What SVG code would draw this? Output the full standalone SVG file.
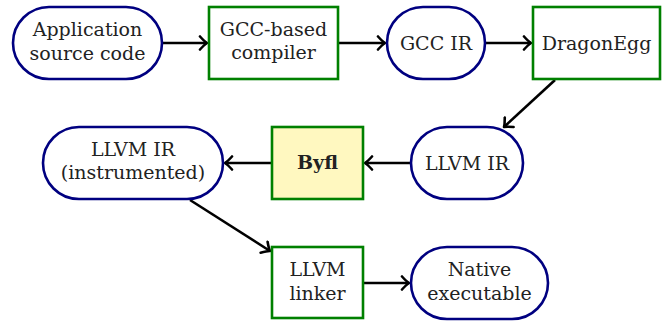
<svg xmlns="http://www.w3.org/2000/svg" width="669" height="322" viewBox="0 0 669 322">
<style>
.data{fill:#fff;stroke:#000080;stroke-width:2.6}
.tool{fill:#fff;stroke:#008000;stroke-width:2.6}
.byfl{fill:#fff8c0;stroke:#008000;stroke-width:2.6}
text{font-family:'DejaVu Serif','Liberation Serif',serif;font-size:19px;fill:#222;text-anchor:middle}
.b{font-weight:bold}
.edge{stroke:#000;stroke-width:2.6;fill:none;marker-end:url(#arr)}
</style>
<defs>
<marker id="arr" markerUnits="userSpaceOnUse" viewBox="-10 -8 12 16" refX="0" refY="0" markerWidth="12" markerHeight="16" orient="auto">
<path d="M-7,-6.5 Q-2.5,-1.5 0,0 Q-2.5,1.5 -7,6.5" fill="none" stroke="#000" stroke-width="2.6" stroke-linecap="round" stroke-linejoin="round"/>
</marker>
</defs>
<g id="connectors">
<path class="edge" d="M162,43 H207"/>
<path class="edge" d="M339,43 H385"/>
<path class="edge" d="M485,43 H531"/>
<path class="edge" d="M555,80 L504,127"/>
<path class="edge" d="M411,163 H365"/>
<path class="edge" d="M272,163 H225"/>
<path class="edge" d="M190,200 L270,251"/>
<path class="edge" d="M363,283 H409"/>
</g>
<g id="app">
<rect class="data" x="13" y="7" width="149" height="72" rx="36"/>
<text x="87.5" y="36">Application</text>
<text x="87.5" y="60">source code</text>
</g>
<g id="gcc">
<rect class="tool" x="209" y="7" width="129" height="72"/>
<text x="273.5" y="36">GCC-based</text>
<text x="273.5" y="59">compiler</text>
</g>
<g id="gccir">
<rect class="data" x="387" y="7" width="98" height="72" rx="36"/>
<text x="436" y="50">GCC IR</text>
</g>
<g id="dragonegg">
<rect class="tool" x="533" y="7" width="127" height="72"/>
<text x="596.5" y="50">DragonEgg</text>
</g>
<g id="llvmir">
<rect class="data" x="411" y="127" width="112" height="72" rx="36"/>
<text x="467" y="170">LLVM IR</text>
</g>
<g id="byfl">
<rect class="byfl" x="272" y="127" width="91" height="72"/>
<text class="b" x="317.5" y="169">Byfl</text>
</g>
<g id="llvmirinst">
<rect class="data" x="43" y="127" width="180" height="72" rx="36"/>
<text x="133" y="156">LLVM IR</text>
<text x="133" y="179">(instrumented)</text>
</g>
<g id="linker">
<rect class="tool" x="272" y="247" width="91" height="71"/>
<text x="317.5" y="276">LLVM</text>
<text x="317.5" y="300">linker</text>
</g>
<g id="native">
<rect class="data" x="411" y="247" width="137" height="72" rx="36"/>
<text x="479.5" y="276">Native</text>
<text x="479.5" y="300">executable</text>
</g>
</svg>
